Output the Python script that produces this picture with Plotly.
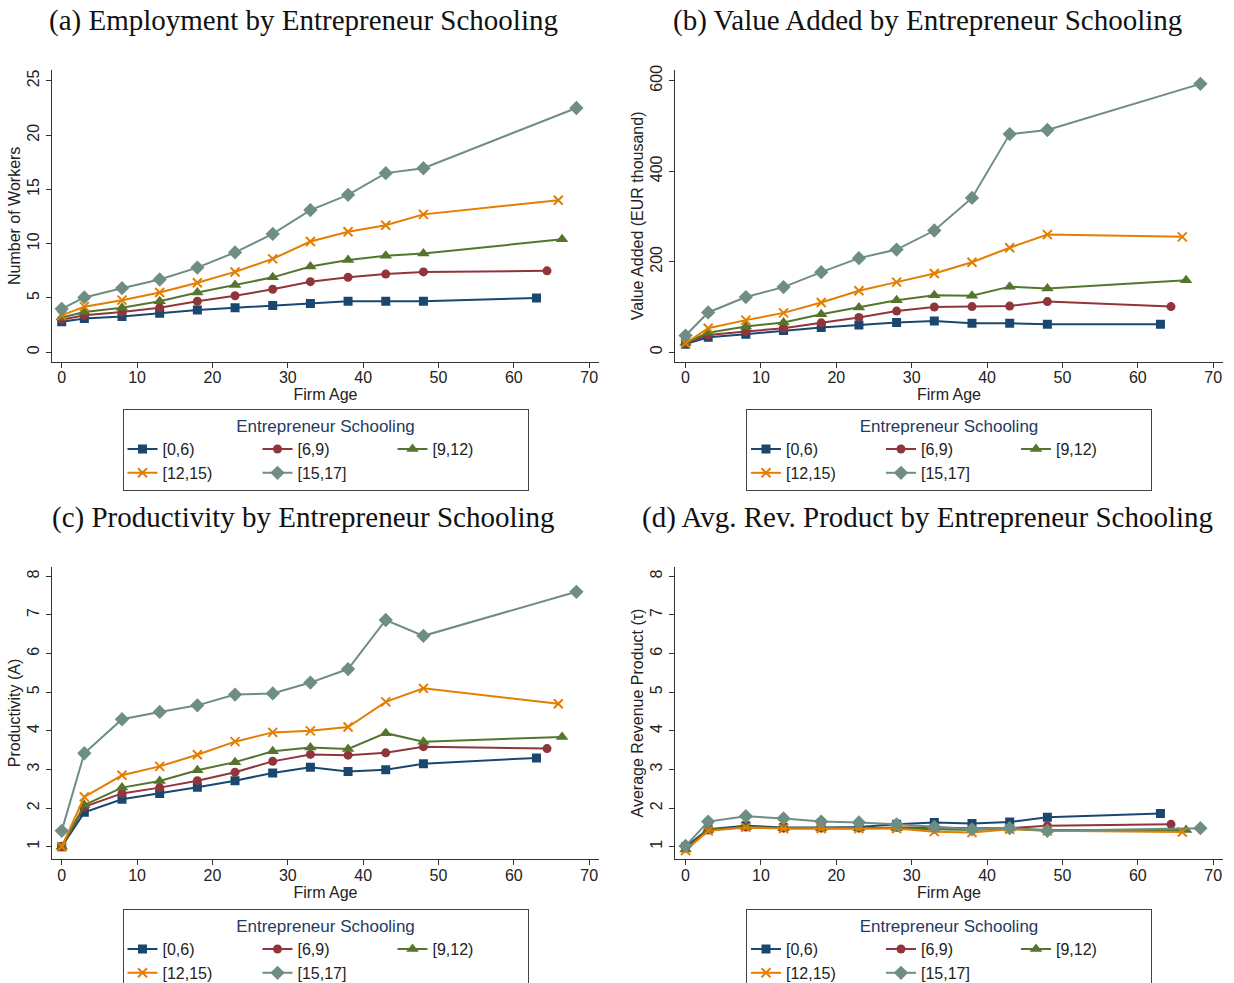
import plotly.graph_objects as go

# Schooling groups (years of schooling of the entrepreneur)
groups = ["[0,6)", "[6,9)", "[9,12)", "[12,15)", "[15,17]"]

# Firm age bins (midpoints); the last bin is the mean age of the oldest firms per group
age_bins = [0, 3, 8, 13, 18, 23, 28, 33, 38, 43, 48]
oldest_age = [63.0, 64.4, 66.4, 65.9, 68.3]

# (a) Number of workers
emp_0_6 = [2.8, 3.1, 3.3, 3.6, 3.9, 4.1, 4.3, 4.5, 4.7, 4.7, 4.7, 5.0]
emp_6_9 = [3.0, 3.4, 3.7, 4.1, 4.7, 5.2, 5.8, 6.5, 6.9, 7.2, 7.4, 7.5]
emp_9_12 = [3.2, 3.7, 4.1, 4.7, 5.5, 6.2, 6.9, 7.9, 8.5, 8.9, 9.1, 10.4]
emp_12_15 = [3.4, 4.2, 4.8, 5.5, 6.4, 7.4, 8.6, 10.2, 11.1, 11.7, 12.7, 14.0]
emp_15_17 = [4.0, 5.05, 5.9, 6.7, 7.8, 9.2, 10.9, 13.1, 14.5, 16.5, 16.95, 22.5]

# (b) Value added, EUR thousand
va_0_6 = [18, 33, 40, 48, 55, 60, 66, 69, 64, 64, 62, 62]
va_6_9 = [20, 38, 46, 53, 65, 77, 91, 100, 101, 102, 112, 101]
va_9_12 = [21, 43, 57, 66, 84, 99, 115, 126, 125, 145, 141, 159]
va_12_15 = [20, 53, 71, 87, 110, 136, 155, 174, 199, 231, 260, 255]
va_15_17 = [37, 88, 122, 144, 177, 208, 227, 269, 341, 482, 491, 593]

# (c) Productivity (A)
prod_0_6 = [1.0, 1.89, 2.23, 2.38, 2.54, 2.71, 2.91, 3.06, 2.95, 2.99, 3.15, 3.30]
prod_6_9 = [1.0, 2.03, 2.38, 2.53, 2.71, 2.93, 3.21, 3.39, 3.37, 3.43, 3.59, 3.54]
prod_9_12 = [1.0, 2.08, 2.53, 2.70, 2.98, 3.19, 3.47, 3.57, 3.53, 3.94, 3.72, 3.84]
prod_12_15 = [1.0, 2.29, 2.85, 3.08, 3.38, 3.72, 3.96, 4.0, 4.1, 4.75, 5.1, 4.7]
prod_15_17 = [1.41, 3.42, 4.30, 4.49, 4.66, 4.94, 4.97, 5.25, 5.60, 6.87, 6.46, 7.60]

# (d) Average revenue product (tau)
arp_0_6 = [1.0, 1.45, 1.54, 1.50, 1.50, 1.51, 1.58, 1.63, 1.60, 1.64, 1.76, 1.86]
arp_6_9 = [0.97, 1.43, 1.51, 1.48, 1.48, 1.48, 1.50, 1.50, 1.48, 1.48, 1.54, 1.58]
arp_9_12 = [0.93, 1.44, 1.51, 1.48, 1.48, 1.48, 1.48, 1.45, 1.43, 1.47, 1.43, 1.43]
arp_12_15 = [0.90, 1.41, 1.50, 1.47, 1.47, 1.47, 1.47, 1.39, 1.37, 1.45, 1.41, 1.38]
arp_15_17 = [1.02, 1.65, 1.79, 1.73, 1.65, 1.63, 1.58, 1.51, 1.45, 1.48, 1.41, 1.48]

panels = [
    dict(series=[emp_0_6, emp_6_9, emp_9_12, emp_12_15, emp_15_17],
         title="(a) Employment by Entrepreneur Schooling",
         ytitle="Number of Workers", yrange=[-0.87, 26.0], ytick=5, ytick0=0),
    dict(series=[va_0_6, va_6_9, va_9_12, va_12_15, va_15_17],
         title="(b) Value Added by Entrepreneur Schooling",
         ytitle="Value Added (EUR thousand)", yrange=[-20.8, 623.6], ytick=200, ytick0=0),
    dict(series=[prod_0_6, prod_6_9, prod_9_12, prod_12_15, prod_15_17],
         title="(c) Productivity by Entrepreneur Schooling",
         ytitle="Productivity (A)", yrange=[0.674, 8.25], ytick=1, ytick0=1),
    dict(series=[arp_0_6, arp_6_9, arp_9_12, arp_12_15, arp_15_17],
         title="(d) Avg. Rev. Product by Entrepreneur Schooling",
         ytitle="Average Revenue Product (\u03c4)", yrange=[0.674, 8.25], ytick=1, ytick0=1),
]

colors = ["#1a476f", "#90353b", "#55752f", "#e37e00", "#6e8e84"]
symbols = ["square", "circle", "triangle-up", "x-thin", "diamond"]
sizes = [9, 9, 11, 9, 11]
# column in the legend box for each group
legend_cols = ["c1", "c2", "c3", "c1", "c2"]

W, H = 1234, 983
x_dom_px = [(52, 599), (675, 1223)]
y_dom_px = [(70, 361.7), (566.7, 859.3)]
title_y_px = [21, 517]
legend_top_px = [409, 909]
x_ranges = [[-1.29, 71.3], [-1.4, 71.3]]

SANS = "Liberation Sans, Arial, sans-serif"
SERIF = "Liberation Serif, Times New Roman, serif"
AXIS_COLOR = "#333333"
TEXT_COLOR = "#222222"

fig = go.Figure()
layout = dict(
    width=W, height=H,
    margin=dict(l=0, r=0, t=0, b=0, autoexpand=False),
    paper_bgcolor="white", plot_bgcolor="white",
    font=dict(family=SANS, size=16, color=TEXT_COLOR),
    annotations=[],
)

for p, panel in enumerate(panels):
    row, col = divmod(p, 2)
    n = p + 1
    xa = "x" if n == 1 else f"x{n}"
    ya = "y" if n == 1 else f"y{n}"
    leg = "legend" if n == 1 else f"legend{n}"

    for g, name in enumerate(groups):
        ages = age_bins + [oldest_age[g]]
        marker = dict(symbol=symbols[g], size=sizes[g], color=colors[g])
        if symbols[g] == "x-thin":
            marker["line"] = dict(color=colors[g], width=2)
        else:
            marker["line"] = dict(width=0)
        fig.add_trace(go.Scatter(
            x=ages, y=panel["series"][g], name=name,
            mode="lines+markers",
            line=dict(color=colors[g], width=2),
            marker=marker,
            xaxis=xa, yaxis=ya, legend=leg,
            legendgroup=f"p{n}{legend_cols[g]}",
        ))

    x0, x1 = x_dom_px[col]
    yt, yb = y_dom_px[row]
    axis_common = dict(
        showline=True, linecolor=AXIS_COLOR, linewidth=1.3,
        ticks="outside", ticklen=5, tickwidth=1.3, tickcolor=AXIS_COLOR,
        showgrid=False, zeroline=False,
        tickfont=dict(family=SANS, size=16, color=TEXT_COLOR),
    )
    layout["xaxis" if n == 1 else f"xaxis{n}"] = dict(
        axis_common,
        domain=[x0 / W, x1 / W], anchor=ya,
        range=x_ranges[col], tick0=0, dtick=10,
        ticklabelstandoff=-4,
        title=dict(text="Firm Age", standoff=2,
                   font=dict(family=SANS, size=16, color=TEXT_COLOR)),
    )
    layout["yaxis" if n == 1 else f"yaxis{n}"] = dict(
        axis_common,
        domain=[1 - yb / H, 1 - yt / H], anchor=xa,
        range=panel["yrange"], tick0=panel["ytick0"], dtick=panel["ytick"],
        tickangle=-90,
        title=dict(text=panel["ytitle"], standoff=0,
                   font=dict(family=SANS, size=16, color=TEXT_COLOR)),
    )

    layout["annotations"].append(dict(
        text=panel["title"], xref="paper", yref="paper",
        x=(x0 + x1) / 2 / W - 22 / W, y=1 - title_y_px[row] / H,
        xanchor="center", yanchor="middle", showarrow=False,
        font=dict(family=SERIF, size=29, color="#111111"),
    ))

    layout[leg] = dict(
        title=dict(text="Entrepreneur Schooling", side="top center",
                   font=dict(family=SANS, size=17, color="#1f3a64")),
        orientation="h", traceorder="grouped",
        x=(x0 + x1) / 2 / W, xanchor="center",
        y=1 - legend_top_px[row] / H, yanchor="top",
        bgcolor="white", bordercolor="#444444", borderwidth=1,
        entrywidth=90, entrywidthmode="pixels",
        font=dict(family=SANS, size=16, color=TEXT_COLOR),
    )

fig.update_layout(**layout)
fig.write_html("out.html")
